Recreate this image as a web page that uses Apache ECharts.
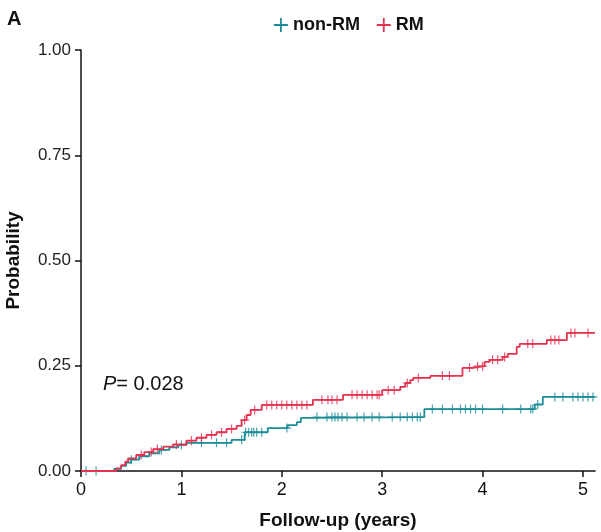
<!DOCTYPE html>
<html>
<head>
<meta charset="utf-8">
<script src="https://cdn.jsdelivr.net/npm/echarts@6/dist/echarts.min.js"></script>
<style>html,body{margin:0;padding:0;background:#fff;}#c{width:601px;height:532px;}</style>
</head>
<body>
<div id="c"></div>
<script>
var seriesNames = ['non-RM', 'RM'];
var xTicks = [0, 1, 2, 3, 4, 5];
var yTicks = [0, 0.25, 0.5, 0.75, 1];
var xMax = 5.12;

// Cumulative incidence steps: [time, probability]
var nonRMSteps = [[0,0],[0.33,0.005],[0.4,0.012],[0.45,0.02],[0.5,0.027],[0.58,0.035],[0.68,0.042],[0.78,0.05],[0.88,0.056],[0.97,0.062],[1.05,0.067],[1.5,0.074],[1.63,0.092],[1.86,0.102],[2.06,0.109],[2.15,0.116],[2.19,0.126],[2.28,0.128],[3.42,0.147],[4.52,0.158],[4.6,0.176]];
var rmSteps = [[0,0],[0.35,0.006],[0.4,0.014],[0.44,0.022],[0.47,0.03],[0.55,0.038],[0.63,0.045],[0.72,0.052],[0.82,0.058],[0.92,0.063],[1.05,0.072],[1.15,0.079],[1.25,0.086],[1.35,0.092],[1.45,0.1],[1.55,0.107],[1.6,0.121],[1.65,0.133],[1.69,0.145],[1.8,0.157],[2.31,0.169],[2.61,0.181],[3.0,0.192],[3.18,0.2],[3.23,0.209],[3.28,0.216],[3.31,0.221],[3.48,0.226],[3.8,0.245],[3.9,0.249],[4.02,0.259],[4.07,0.264],[4.2,0.271],[4.25,0.278],[4.34,0.295],[4.37,0.302],[4.64,0.311],[4.84,0.328]];

// Censoring times
var nonRMCensor = [0.05,0.15,0.5,0.8,1.0,1.2,1.35,1.45,1.6,1.64,1.67,1.7,1.72,1.75,1.8,2.05,2.35,2.45,2.5,2.53,2.56,2.6,2.65,2.75,2.82,2.9,2.97,3.1,3.18,3.25,3.3,3.35,3.38,3.5,3.6,3.7,3.78,3.83,3.88,3.93,4.0,4.2,4.38,4.48,4.5,4.55,4.72,4.8,4.9,4.95,5.0,5.05,5.1];
var rmCensor = [0.6,0.7,0.76,0.95,1.1,1.2,1.3,1.4,1.5,1.63,1.73,1.85,1.9,1.95,2.0,2.05,2.1,2.15,2.2,2.25,2.4,2.46,2.5,2.55,2.7,2.75,2.8,2.85,2.9,2.95,2.97,3.06,3.12,3.25,3.36,3.6,3.67,3.87,3.95,4.0,4.1,4.15,4.22,4.45,4.5,4.68,4.72,4.76,4.88,4.92,5.05];

var colors = ['#1c8d98', '#e5324f'];

function stepValue(steps, t) {
  var v = 0;
  for (var i = 0; i < steps.length; i++) { if (steps[i][0] <= t) v = steps[i][1]; }
  return v;
}
function lineData(steps) {
  var d = steps.slice();
  d.push([xMax, steps[steps.length - 1][1]]);
  return d;
}
function censorData(steps, times) {
  return times.map(function (t) { return [t, stepValue(steps, t)]; });
}

var plus = 'path://M0,5L10,5M5,0L5,10';
var font = 'Liberation Sans';

var chart = echarts.init(document.getElementById('c'));
chart.setOption({
  animation: false,
  textStyle: { fontFamily: font },
  grid: { left: 81, right: 6, top: 50, bottom: 61, containLabel: false, outerBoundsMode: 'none' },
  legend: {
    top: 11, left: 268, itemGap: 16, itemWidth: 14, itemHeight: 14,
    icon: plus,
    textStyle: { fontFamily: font, fontWeight: 'bold', fontSize: 18, color: '#111' },
    data: [
      { name: seriesNames[0], itemStyle: { color: 'rgba(0,0,0,0)', borderColor: colors[0], borderWidth: 1.8 } },
      { name: seriesNames[1], itemStyle: { color: 'rgba(0,0,0,0)', borderColor: colors[1], borderWidth: 1.8 } }
    ]
  },
  xAxis: {
    type: 'value', min: 0, max: xMax,
    name: 'Follow-up (years)', nameLocation: 'middle', nameGap: 40,
    nameTextStyle: { fontFamily: font, fontWeight: 'bold', fontSize: 19, color: '#111' },
    splitLine: { show: false },
    axisLine: { show: true, lineStyle: { color: '#111', width: 1.5 } },
    axisTick: { show: true, length: 6, customValues: xTicks, lineStyle: { color: '#111', width: 1.5 } },
    axisLabel: { customValues: xTicks, fontSize: 18, color: '#111', margin: 10, formatter: function (v) { return String(v); } }
  },
  yAxis: {
    type: 'value', min: 0, max: 1, interval: 0.25,
    name: 'Probability', nameLocation: 'middle', nameGap: 58,
    nameTextStyle: { fontFamily: font, fontWeight: 'bold', fontSize: 19, color: '#111' },
    splitLine: { show: false },
    axisLine: { show: true, lineStyle: { color: '#111', width: 1.5 } },
    axisTick: { show: true, length: 6, lineStyle: { color: '#111', width: 1.5 } },
    axisLabel: { fontSize: 17, color: '#222', margin: 10, formatter: function (v) { return v.toFixed(2); } }
  },
  graphic: [
    { type: 'text', left: 7, top: 9, style: { text: 'A', font: 'bold 20px "Liberation Sans"', fill: '#111' } },
    { type: 'text', left: 103, top: 374, style: {
        text: '{p|P}{t|= 0.028}',
        rich: {
          p: { fontFamily: font, fontStyle: 'italic', fontSize: 20, fill: '#111' },
          t: { fontFamily: font, fontSize: 20, fill: '#111' }
        }
    } }
  ],
  series: [
    { name: seriesNames[0], type: 'line', step: 'end', showSymbol: false, data: lineData(nonRMSteps),
      lineStyle: { color: colors[0], width: 1.8 }, itemStyle: { color: colors[0] }, z: 2 },
    { name: seriesNames[1], type: 'line', step: 'end', showSymbol: false, data: lineData(rmSteps),
      lineStyle: { color: colors[1], width: 1.8 }, itemStyle: { color: colors[1] }, z: 3 },
    { name: seriesNames[0], type: 'scatter', symbol: plus, symbolSize: 9, data: censorData(nonRMSteps, nonRMCensor),
      itemStyle: { color: 'rgba(0,0,0,0)', borderColor: colors[0], borderWidth: 1.2 }, z: 2 },
    { name: seriesNames[1], type: 'scatter', symbol: plus, symbolSize: 9, data: censorData(rmSteps, rmCensor),
      itemStyle: { color: 'rgba(0,0,0,0)', borderColor: colors[1], borderWidth: 1.2 }, z: 3 }
  ]
});
</script>
</body>
</html>
